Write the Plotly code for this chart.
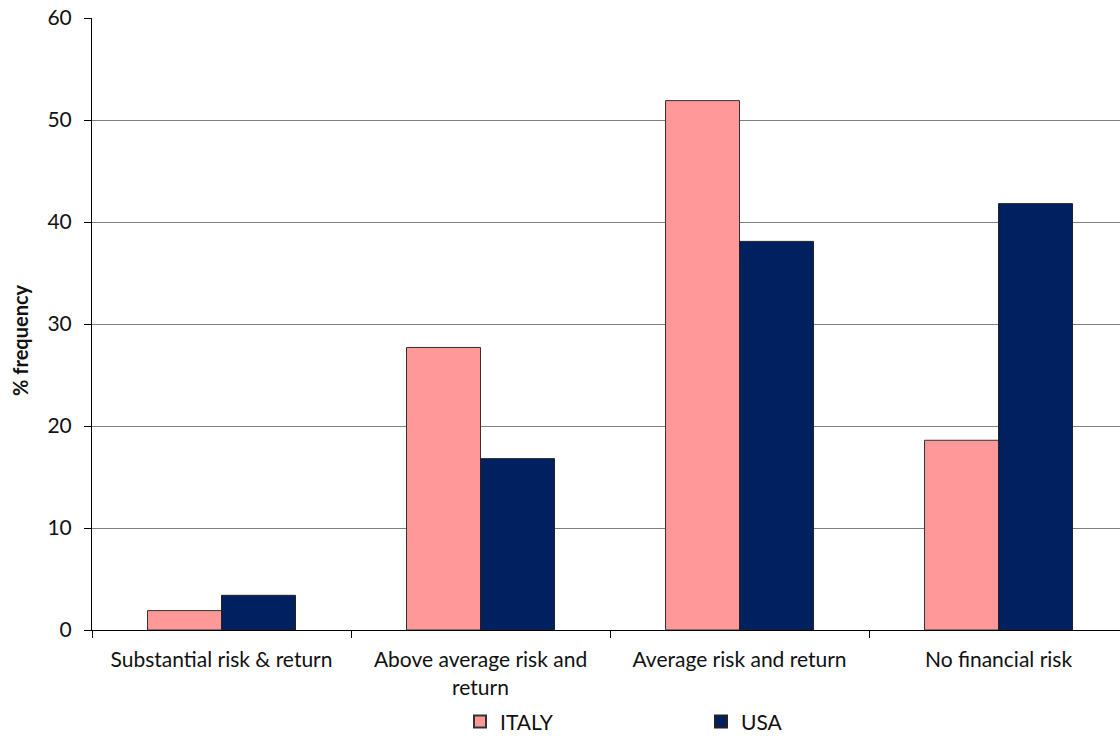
import plotly.graph_objects as go

categories = ["Substantial risk & return", "Above average risk and<br>return",
              "Average risk and return", "No financial risk"]
italy = [1.9, 27.7, 51.9, 18.6]
usa = [3.4, 16.8, 38.1, 41.8]
y_ticks = [0, 10, 20, 30, 40, 50, 60]

FONT = "Lato"
FS = 21

fig = go.Figure()
fig.add_trace(go.Bar(name="ITALY", x=categories, y=italy,
                     marker=dict(color="#FF9999", line=dict(color="#333333", width=1))))
fig.add_trace(go.Bar(name="USA", x=categories, y=usa,
                     marker=dict(color="#002060", line=dict(color="#222222", width=1))))

fig.update_layout(
    width=1120, height=738,
    margin=dict(l=92, r=0, t=18, b=108, autoexpand=False),
    plot_bgcolor="white", paper_bgcolor="white",
    barmode="group", bargap=0.4286, bargroupgap=0,
    font=dict(family=FONT, size=FS, color="#111111"),
    showlegend=True,
    legend=dict(orientation="h", x=0.358, xanchor="left", y=-0.150, yanchor="middle",
                entrywidth=196, entrywidthmode="pixels",
                font=dict(family=FONT, size=FS), itemsizing="constant"),
    xaxis=dict(range=[-0.5, 3.469], showline=True, linecolor="black", linewidth=1,
               ticks="outside", tickson="boundaries", ticklen=7, tickcolor="black",
               ticklabelstandoff=11,
               showgrid=False, automargin=False, tickfont=dict(family=FONT, size=FS)),
    yaxis=dict(range=[0, 60], tickvals=y_ticks, showline=True, linecolor="black", linewidth=1,
               ticks="outside", ticklen=7, tickcolor="black", ticklabelstandoff=8,
               showgrid=True, gridcolor="#808080", gridwidth=1, zeroline=False,
               automargin=False, tickfont=dict(family=FONT, size=FS)),
)
fig.add_annotation(text="<b>% frequency</b>", textangle=-90, showarrow=False,
                   xref="paper", yref="paper", x=-0.070, y=0.474,
                   xanchor="center", yanchor="middle",
                   font=dict(family=FONT, size=FS - 1))

fig.write_html("out.html", config={"displayModeBar": False},
               post_script="document.body.style.margin='0';document.body.style.overflow='hidden';")
